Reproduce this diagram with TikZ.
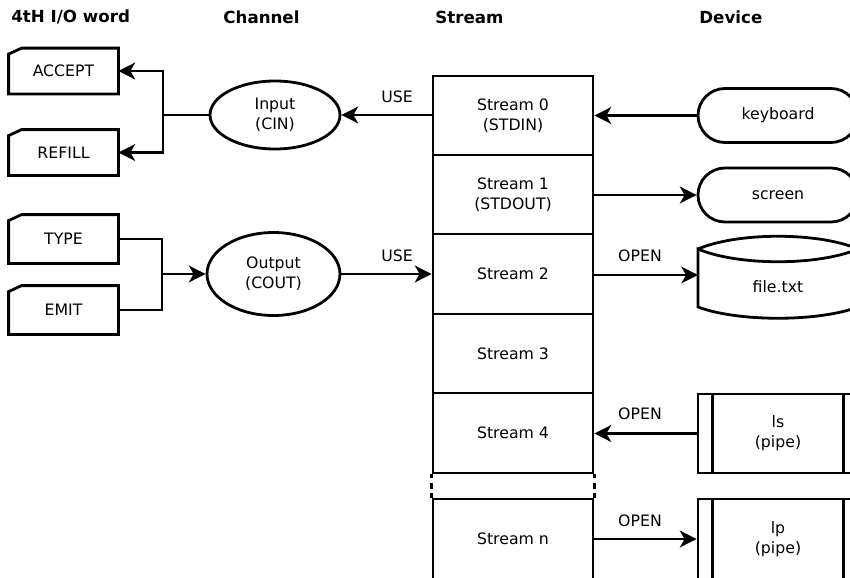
\documentclass[tikz,border=0pt]{standalone}
\usepackage{fontspec}
\setmainfont{DejaVu Sans}
\usetikzlibrary{arrows.meta,shapes.geometric,calc}
\begin{document}
\begin{tikzpicture}[x=0.75pt,y=-0.75pt,
  line width=2.1pt,
  every node/.style={font=\fontsize{11.8}{15}\selectfont, inner sep=0pt, align=center},
  hdr/.style={font=\fontsize{12.5}{15}\selectfont\bfseries, anchor=west},
  card/.style={minimum width={107*0.75pt}},
  chan/.style={ellipse, draw},
  strm/.style={rectangle, draw, minimum width={160*0.75pt}},
  term/.style={rectangle, draw, rounded corners={27*0.75pt}, minimum width={160*0.75pt}, minimum height={54*0.75pt}},
  pipebox/.style={rectangle, draw, minimum width={160*0.75pt}},
  lbl/.style={},
  arr/.style={-{Stealth[length=12.5pt,width=12.5pt,inset=3.5pt]}}
]
\useasboundingbox (0,0) rectangle (850,578);
\clip (0,0) rectangle (850,578);

% headers
\node[hdr] (h1) at (10,17) {4tH I/O word};
\node[hdr] (h2) at (222,17) {Channel};
\node[hdr] (h3) at (434,17) {Stream};
\node[hdr] (h4) at (698,17) {Device};

% word cards
\node[card, minimum height={43*0.75pt}] (accept) at (63.5,71) {ACCEPT};
\node[card, minimum height={43*0.75pt}] (refill) at (63.5,152.5) {REFILL};
\node[card, minimum height={46*0.75pt}] (type) at (63.5,239) {TYPE};
\node[card, minimum height={46*0.75pt}] (emit) at (63.5,310) {EMIT};
\foreach \n in {accept,refill,type,emit}{
  \draw ($(\n.north west)+(0,6)$) -- ($(\n.north west)+(13,0)$) -- (\n.north east)
     -- (\n.south east) -- (\n.south west) -- cycle;
}

% channels
\node[chan, minimum width={130*0.75pt}, minimum height={68*0.75pt}] (inp) at (275,115) {Input\\(CIN)};
\node[chan, minimum width={133*0.75pt}, minimum height={83*0.75pt}] (outp) at (273.5,274) {Output\\(COUT)};

% streams
\node[strm, minimum height={79*0.75pt}] (s0) at (513,115.5) {Stream 0\\(STDIN)};
\node[strm, minimum height={79*0.75pt}] (s1) at (513,194.5) {Stream 1\\(STDOUT)};
\node[strm, minimum height={80*0.75pt}] (s2) at (513,274) {Stream 2};
\node[strm, minimum height={79*0.75pt}] (s3) at (513,353.5) {Stream 3};
\node[strm, minimum height={80*0.75pt}] (s4) at (513,433) {Stream 4};
\node[strm, minimum height={80*0.75pt}] (sn) at (513,539) {Stream n};
\draw[dash pattern={on 3pt off 3.75pt on 4.5pt off 3pt on 6pt}] (s4.south west) -- (sn.north west);
\draw[dash pattern={on 3pt off 3.75pt on 4.5pt off 3pt on 6pt}] (s4.south east) -- (sn.north east);

% devices
\node[term] (kbd) at (778,115.5) {keyboard};
\node[term] (scr) at (778,195) {screen};
\node[minimum width={160*0.75pt}, minimum height={71*0.75pt}] (file) at (778,285) {};
\node at (778,287) {file.txt};
\draw (698,249) .. controls (738,232) and (818,232) .. (858,249)
      .. controls (818,266) and (738,266) .. (698,249)
      -- (698,307) .. controls (738,322) and (818,322) .. (858,307) -- (858,249);
\node[pipebox, minimum height={79*0.75pt}] (ls) at (778,433.5) {ls\\(pipe)};
\node[pipebox, minimum height={80*0.75pt}] (lp) at (778,539) {lp\\(pipe)};
\foreach \n in {ls,lp}{
  \draw ($(\n.north west)+(16,0)$) -- ($(\n.south west)+(16,0)$);
  \draw ($(\n.north east)+(-16,0)$) -- ($(\n.south east)+(-16,0)$);
}

% connectors
\coordinate (j1) at (163,115);
\draw (inp.west) -- (j1);
\draw[arr] (j1) |- (accept.east);
\draw[arr] (j1) |- (refill.east);
\coordinate (j2) at (162,274);
\draw (type.east) -| (j2);
\draw (emit.east) -| (j2);
\draw[arr] (j2) -- (outp.west);

\draw[arr] (s0.west |- inp.east) -- (inp.east);
\draw[arr] (outp.east) -- (outp.east -| s2.west);
\draw[arr] (kbd.west) -- (kbd.west -| s0.east);
\draw[arr] (s1.east |- scr.west) -- (scr.west);
\draw[arr] (s2.east |- 0,275) -- (698,275);
\draw[arr] (ls.west) -- (ls.west -| s4.east);
\draw[arr] (sn.east) -- (sn.east -| lp.west);

% labels
\node[lbl] (u1) at (397,97) {USE};
\node[lbl] (u2) at (397,256) {USE};
\node[lbl] (o1) at (640,256) {OPEN};
\node[lbl] (o2) at (640,414) {OPEN};
\node[lbl] (o3) at (640,521) {OPEN};
\end{tikzpicture}
\end{document}
